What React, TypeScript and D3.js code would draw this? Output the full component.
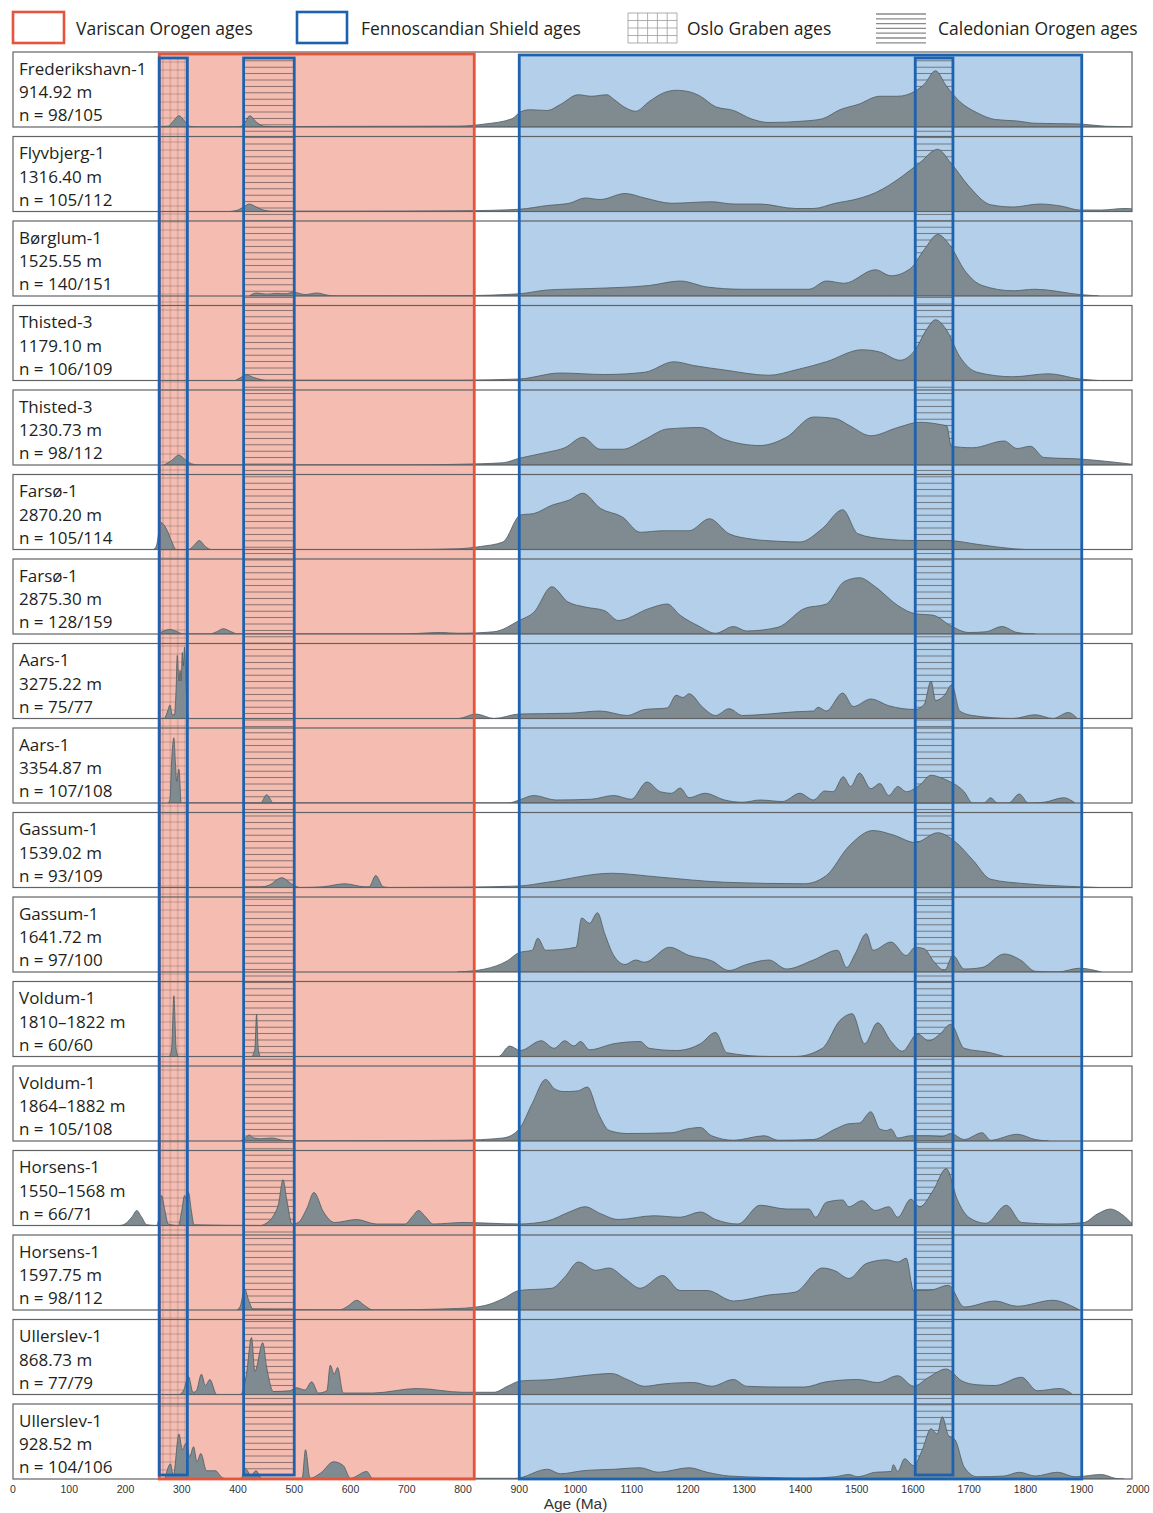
import React from "react";
import * as d3 from "d3";

// ---------- data ----------
const AGE_TICKS = d3.range(0, 2001, 100);

const SAMPLE_NAMES = [
  "Frederikshavn-1", "Flyvbjerg-1", "Børglum-1", "Thisted-3", "Thisted-3",
  "Farsø-1", "Farsø-1", "Aars-1", "Aars-1", "Gassum-1", "Gassum-1",
  "Voldum-1", "Voldum-1", "Horsens-1", "Horsens-1", "Ullerslev-1", "Ullerslev-1",
];
const SAMPLE_DEPTHS = [
  "914.92 m", "1316.40 m", "1525.55 m", "1179.10 m", "1230.73 m",
  "2870.20 m", "2875.30 m", "3275.22 m", "3354.87 m", "1539.02 m", "1641.72 m",
  "1810–1822 m", "1864–1882 m", "1550–1568 m", "1597.75 m", "868.73 m", "928.52 m",
];
const SAMPLE_COUNTS = [
  "n = 98/105", "n = 105/112", "n = 140/151", "n = 106/109", "n = 98/112",
  "n = 105/114", "n = 128/159", "n = 75/77", "n = 107/108", "n = 93/109", "n = 97/100",
  "n = 60/60", "n = 105/108", "n = 66/71", "n = 98/112", "n = 77/79", "n = 104/106",
];

// Age ranges (Ma)
const VARISCAN = [260, 820];
const FENNOSCANDIAN = [900, 1900];
const OSLO = [260, 310];
const CALEDONIAN = [[410, 500], [1604, 1671]];

const LEGEND_LABELS = ["Variscan Orogen ages", "Fennoscandian Shield ages", "Oslo Graben ages", "Caledonian Orogen ages"];

// Density curves: [age (Ma), relative height]
const P01 = [[250,0],[276,0.01],[285,0.08],[295,0.15],[305,0.08],[314,0.01],[330,0],[395,0],[406,0.01],[414,0.08],[421,0.15],[432,0.07],[446,0.01],[470,0.005],[570,0.008],[700,0.01],[792,0.012],
  [839,0.04],[887,0.11],[902,0.2],[918,0.23],[950,0.22],[973,0.3],[1005,0.43],[1028,0.41],[1056,0.43],[1068,0.37],[1088,0.26],[1107,0.21],[1131,0.34],[1155,0.45],[1179,0.49],[1202,0.47],[1222,0.41],[1249,0.27],[1281,0.22],[1312,0.11],[1344,0.06],[1407,0.08],[1439,0.11],[1470,0.23],[1502,0.3],[1541,0.41],[1573,0.41],[1604,0.48],[1620,0.57],[1640,0.75],[1659,0.55],[1683,0.34],[1714,0.19],[1746,0.1],[1785,0.08],[1817,0.05],[1896,0.04],[1943,0.01],[1975,0.005],[1990,0]];
const P02 = [[385,0],[400,0.02],[412,0.07],[420,0.1],[430,0.07],[445,0.02],[460,0.005],[600,0.005],[800,0.01],
  [900,0.03],[950,0.08],[989,0.11],[1017,0.18],[1044,0.16],[1088,0.24],[1123,0.18],[1171,0.11],[1242,0.13],[1281,0.1],[1328,0.1],[1391,0.04],[1423,0.04],[1462,0.11],[1502,0.17],[1533,0.25],[1581,0.47],[1612,0.65],[1644,0.83],[1667,0.65],[1699,0.34],[1738,0.09],[1778,0.06],[1825,0.1],[1865,0.07],[1896,0.02],[1935,0.02],[1975,0.04],[1995,0.035]];
const P03 = [[420,0],[433,0.04],[450,0.025],[469,0.035],[485,0.03],[498,0.05],[520,0.02],[540,0.04],[560,0.01],[575,0],[800,0.005],
  [900,0.03],[950,0.08],[1028,0.1],[1131,0.14],[1186,0.2],[1234,0.12],[1297,0.09],[1415,0.09],[1446,0.2],[1478,0.17],[1533,0.35],[1561,0.27],[1596,0.37],[1620,0.62],[1644,0.82],[1667,0.66],[1691,0.35],[1723,0.14],[1778,0.07],[1817,0.09],[1896,0.02],[1930,0]];
const P04 = [[395,0],[405,0.04],[415,0.075],[428,0.04],[450,0.005],[800,0.005],
  [900,0.02],[973,0.1],[1052,0.08],[1123,0.11],[1175,0.25],[1210,0.2],[1265,0.14],[1344,0.07],[1391,0.14],[1446,0.25],[1509,0.41],[1541,0.38],[1577,0.27],[1604,0.41],[1624,0.68],[1640,0.81],[1659,0.68],[1683,0.32],[1714,0.11],[1778,0.05],[1841,0.09],[1896,0.02],[1930,0]];
const P05 = [[268,0],[280,0.05],[295,0.13],[308,0.06],[320,0.01],[335,0],[700,0],[792,0.01],
  [871,0.03],[900,0.09],[950,0.17],[981,0.23],[1013,0.37],[1044,0.21],[1084,0.21],[1123,0.34],[1163,0.48],[1222,0.5],[1265,0.34],[1328,0.26],[1375,0.37],[1423,0.64],[1462,0.62],[1486,0.53],[1525,0.39],[1573,0.5],[1612,0.57],[1648,0.54],[1660,0.52],[1668,0.25],[1706,0.23],[1762,0.32],[1785,0.22],[1809,0.25],[1833,0.1],[1896,0.08],[1990,0.01]];
const P06 = [[250,0],[255,0.05],[263,0.36],[273,0.27],[282,0.11],[290,0],[312,0],[320,0.04],[331,0.12],[342,0.04],[352,0],[700,0],[792,0.01],
  [831,0.04],[871,0.1],[902,0.46],[926,0.48],[958,0.59],[989,0.66],[1013,0.75],[1044,0.55],[1084,0.43],[1115,0.23],[1155,0.25],[1202,0.25],[1238,0.41],[1273,0.21],[1312,0.14],[1360,0.11],[1399,0.1],[1439,0.28],[1475,0.53],[1502,0.21],[1549,0.14],[1604,0.12],[1659,0.12],[1723,0.06],[1778,0.01],[1800,0]];
const P07 = [[258,0],[265,0.03],[279,0.06],[292,0.03],[302,0],[350,0],[362,0.03],[374,0.07],[388,0.03],[400,0],[690,0],[760,0.02],[792,0.01],
  [855,0.03],[900,0.18],[926,0.29],[958,0.63],[986,0.43],[1017,0.36],[1052,0.31],[1076,0.18],[1131,0.34],[1163,0.4],[1186,0.25],[1218,0.11],[1249,0.01],[1281,0.1],[1304,0.04],[1360,0.09],[1407,0.34],[1446,0.4],[1478,0.7],[1505,0.75],[1533,0.63],[1573,0.38],[1604,0.27],[1636,0.25],[1667,0.11],[1699,0.02],[1730,0.03],[1758,0.1],[1785,0.02],[1817,0]];
const P08 = [[270,0],[275,0.1],[279,0.18],[283,0.05],[287,0.05],[290,0.4],[292,0.84],[295,0.5],[297,0.64],[299,0.5],[301,0.88],[303,0.7],[305,0.95],[307,0.6],[309,0.2],[312,0],[792,0],
  [823,0.06],[855,0.0],[900,0.06],[989,0.07],[1044,0.1],[1092,0.04],[1123,0.12],[1163,0.14],[1179,0.31],[1191,0.28],[1202,0.33],[1226,0.15],[1249,0.04],[1273,0.13],[1297,0.04],[1344,0.06],[1391,0.09],[1423,0.1],[1431,0.15],[1446,0.1],[1475,0.34],[1494,0.16],[1525,0.26],[1557,0.17],[1604,0.12],[1620,0.19],[1632,0.5],[1640,0.24],[1656,0.31],[1669,0.45],[1683,0.1],[1706,0.04],[1778,0.0],[1817,0.05],[1849,0.0],[1876,0.08],[1892,0]];
const P09 = [[276,0],[279,0.05],[282,0.56],[286,0.87],[289,0.5],[291,0.29],[295,0.45],[299,0],[440,0],[451,0.11],[463,0],[800,0],
  [880,0],[900,0.04],[926,0.1],[965,0.04],[1028,0.05],[1068,0.1],[1099,0.05],[1127,0.28],[1151,0.15],[1171,0.13],[1186,0.2],[1202,0.07],[1230,0.13],[1265,0.04],[1297,0.01],[1328,0.04],[1368,0.02],[1399,0.13],[1423,0.04],[1443,0.16],[1458,0.15],[1476,0.35],[1489,0.22],[1505,0.4],[1525,0.19],[1541,0.26],[1557,0.1],[1573,0.22],[1588,0.15],[1612,0.24],[1632,0.37],[1652,0.33],[1667,0.28],[1691,0.15],[1706,0.0],[1726,0.0],[1738,0.07],[1750,0.0],[1770,0.0],[1789,0.12],[1805,0.0],[1833,0.01],[1868,0.07],[1888,0]];
const P10 = [[440,0],[455,0.03],[478,0.13],[495,0.05],[510,0],[551,0.01],[590,0.05],[625,0.01],[633,0.01],[645,0.16],[658,0.01],[670,0],[800,0.005],
  [900,0.02],[950,0.07],[1064,0.19],[1147,0.14],[1265,0.07],[1407,0.05],[1446,0.16],[1486,0.55],[1529,0.76],[1565,0.7],[1604,0.6],[1644,0.73],[1675,0.61],[1707,0.36],[1738,0.11],[1801,0.05],[1896,0.01],[1930,0]];
const P11 = [[790,0],
  [839,0.04],[879,0.15],[900,0.26],[923,0.29],[933,0.45],[947,0.29],[1001,0.33],[1011,0.72],[1025,0.65],[1039,0.79],[1052,0.51],[1068,0.22],[1088,0.1],[1107,0.16],[1123,0.13],[1167,0.33],[1202,0.22],[1242,0.15],[1273,0.02],[1304,0.1],[1344,0.16],[1375,0.04],[1423,0.16],[1466,0.29],[1482,0.06],[1497,0.24],[1517,0.51],[1529,0.29],[1561,0.4],[1588,0.22],[1604,0.33],[1620,0.31],[1636,0.15],[1656,0.02],[1671,0.22],[1691,0.04],[1723,0.06],[1762,0.24],[1793,0.15],[1817,0.01],[1857,0],[1896,0.05],[1935,0]];
const P12 = [[278,0],[282,0.1],[286,0.81],[290,0.1],[294,0],[424,0],[430,0.1],[433,0.56],[436,0.1],[440,0],[790,0],
  [863,0],[883,0.14],[902,0.08],[939,0.21],[962,0.11],[981,0.21],[997,0.14],[1009,0.2],[1025,0.09],[1068,0.17],[1115,0.2],[1131,0.11],[1179,0.08],[1222,0.17],[1249,0.32],[1269,0.05],[1344,0],[1391,0],[1439,0.11],[1470,0.48],[1492,0.57],[1514,0.17],[1537,0.45],[1561,0.2],[1581,0.07],[1608,0.3],[1628,0.21],[1648,0.3],[1667,0.43],[1691,0.11],[1738,0.05],[1762,0]];
const P13 = [[405,0],[413,0.04],[420,0.08],[428,0.04],[440,0.03],[460,0.04],[480,0.01],[500,0],[792,0.01],
  [871,0.04],[900,0.16],[923,0.5],[947,0.82],[962,0.7],[978,0.66],[989,0.66],[1005,0.67],[1021,0.72],[1041,0.36],[1060,0.14],[1092,0.1],[1171,0.11],[1198,0.16],[1222,0.18],[1242,0.07],[1281,0.01],[1336,0.07],[1360,0.01],[1423,0.02],[1462,0.16],[1486,0.23],[1505,0.24],[1525,0.39],[1541,0.16],[1553,0.14],[1561,0.16],[1573,0.04],[1596,0.07],[1628,0.07],[1652,0.06],[1667,0.1],[1691,0.02],[1723,0.11],[1738,0.01],[1785,0.09],[1817,0.02],[1841,0]];
const P14 = [[190,0],[199,0.02],[212,0.12],[220,0.2],[228,0.12],[238,0.01],[255,0],[258,0.05],[264,0.4],[270,0.2],[276,0.02],[294,0],[300,0.2],[305,0.4],[308,0.35],[312,0.44],[317,0.2],[322,0.01],[440,0],[450,0.03],[463,0.13],[472,0.29],[480,0.61],[487,0.33],[496,0.02],[507,0.04],[522,0.22],[535,0.44],[552,0.18],[572,0.04],[611,0.08],[646,0.02],[697,0.02],[710,0.12],[721,0.2],[733,0.12],[747,0.02],[800,0.04],
  [900,0.02],[950,0.06],[989,0.18],[1017,0.25],[1044,0.16],[1076,0.08],[1139,0.13],[1186,0.11],[1222,0.18],[1249,0.08],[1289,0.02],[1328,0.27],[1375,0.22],[1415,0.22],[1427,0.11],[1446,0.31],[1475,0.34],[1486,0.25],[1509,0.33],[1533,0.2],[1557,0.25],[1573,0.11],[1596,0.35],[1612,0.25],[1636,0.47],[1659,0.76],[1679,0.34],[1699,0.11],[1730,0.03],[1766,0.27],[1793,0.04],[1857,0.02],[1904,0.04],[1927,0.15],[1951,0.22],[1971,0.15],[1990,0.02]];
const P15 = [[398,0],[404,0.05],[412,0.28],[418,0.15],[427,0.01],[580,0],[595,0.05],[611,0.13],[625,0.06],[640,0],[790,0.02],
  [839,0.06],[871,0.15],[900,0.26],[958,0.29],[981,0.44],[1005,0.64],[1036,0.53],[1060,0.56],[1088,0.42],[1115,0.29],[1155,0.46],[1186,0.26],[1234,0.26],[1281,0.12],[1344,0.2],[1391,0.24],[1439,0.56],[1462,0.52],[1486,0.42],[1517,0.62],[1553,0.67],[1573,0.64],[1588,0.69],[1601,0.26],[1628,0.26],[1663,0.33],[1691,0.04],[1746,0.12],[1785,0.05],[1849,0.13],[1880,0.06],[1896,0]];
const P16 = [[296,0],[303,0.05],[312,0.24],[320,0.03],[326,0.05],[335,0.27],[342,0.12],[350,0.2],[362,0],[405,0],[415,0.27],[424,0.76],[430,0.31],[444,0.69],[451,0.36],[463,0.04],[492,0.05],[504,0.09],[519,0.06],[531,0.17],[543,0.02],[558,0.05],[564,0.39],[571,0.27],[577,0.36],[587,0.02],[640,0.02],[718,0.08],[800,0.03],
  [855,0.03],[879,0.11],[902,0.18],[958,0.2],[1013,0.25],[1064,0.28],[1092,0.2],[1123,0.11],[1155,0.14],[1210,0.16],[1242,0.11],[1281,0.2],[1304,0.11],[1360,0.1],[1407,0.1],[1446,0.17],[1502,0.2],[1537,0.16],[1573,0.25],[1601,0.11],[1628,0.23],[1659,0.34],[1687,0.18],[1714,0.13],[1746,0.12],[1793,0.23],[1821,0.05],[1861,0.08],[1884,0]];
const P17 = [[270,0],[280,0.2],[285,0.05],[295,0.6],[301,0.39],[308,0.48],[314,0.3],[321,0.43],[327,0.23],[334,0.34],[344,0.11],[360,0.11],[370,0.03],[380,0],[405,0],[413,0.14],[423,0.05],[432,0.11],[442,0.01],[514,0.01],[520,0.39],[528,0.01],[547,0.08],[570,0.23],[587,0.18],[600,0.01],[629,0.1],[639,0.01],[800,0.01],
  [894,0.01],[950,0.13],[973,0.07],[1013,0.11],[1068,0.13],[1115,0.15],[1147,0.09],[1202,0.15],[1234,0.09],[1273,0.04],[1344,0.02],[1407,0.01],[1462,0.03],[1486,0.06],[1502,0.03],[1533,0.09],[1561,0.1],[1565,0.19],[1573,0.1],[1585,0.27],[1601,0.18],[1616,0.38],[1632,0.67],[1643,0.6],[1652,0.83],[1663,0.58],[1675,0.52],[1691,0.16],[1714,0.03],[1762,0.04],[1789,0.09],[1817,0.04],[1857,0.09],[1888,0.03],[1935,0.06],[1959,0.01],[1975,0]];

const DENSITIES = [P01, P02, P03, P04, P05, P06, P07, P08, P09, P10, P11, P12, P13, P14, P15, P16, P17];

// ---------- layout ----------
const W = 1153;
const H = 1513;
const PANEL_LEFT = 13;
const PANEL_RIGHT = 1132;
const PANEL_TOP0 = 52;
const PANEL_STEP = 84.5;
const PANEL_H = 75;

const RED = "#e4553b";
const RED_FILL = "#f5bdb1";
const BLUE = "#1d62ae";
const BLUE_FILL = "#b3cfe9";
const DENS_FILL = "#7f8b91";
const DENS_STROKE = "#4e5a61";
const FONT = "'Open Sans', 'Noto Sans', sans-serif";

export default function App() {
  const x = d3.scaleLinear().domain([0, 2000]).range([13, 1138]);
  const nP = DENSITIES.length;
  const lastBottom = PANEL_TOP0 + (nP - 1) * PANEL_STEP + PANEL_H;

  const panels = DENSITIES.map((data, i) => {
    const top = PANEL_TOP0 + i * PANEL_STEP;
    const bottom = top + PANEL_H;
    const y = d3.scaleLinear().domain([0, 1]).range([bottom, top]);
    const area = d3
      .area<number[]>()
      .x((d) => x(d[0]))
      .y0(bottom)
      .y1((d) => y(d[1]))
      .curve(d3.curveMonotoneX);
    return { top, bottom, path: area(data as number[][]) || "" };
  });

  const boxTop = 55;
  const innerTop = 58;
  const innerBottom = lastBottom - 4;

  return (
    <svg
      width={W}
      height={H}
      viewBox={`0 0 ${W} ${H}`}
      style={{ position: "absolute", left: 0, top: 0, background: "#fff" }}
    >
      <defs>
        <pattern id="hatch" patternUnits="userSpaceOnUse" width="10" height="6.4">
          <line x1="0" y1="3.2" x2="10" y2="3.2" stroke="#3a3a3a" strokeOpacity="0.6" strokeWidth="1" />
        </pattern>
        <pattern id="grid" patternUnits="userSpaceOnUse" width="7.4" height="8" x={x(OSLO[0])} y={innerTop}>
          <line x1="3.7" y1="0" x2="3.7" y2="8" stroke="#5a4a4a" strokeOpacity="0.45" strokeWidth="0.7" />
          <line x1="0" y1="4" x2="7.4" y2="4" stroke="#5a4a4a" strokeOpacity="0.45" strokeWidth="0.7" />
        </pattern>
        {panels.map((p, i) => (
          <clipPath id={`clip${i}`} key={i}>
            <rect x={PANEL_LEFT} y={p.top} width={PANEL_RIGHT - PANEL_LEFT} height={PANEL_H} />
          </clipPath>
        ))}
      </defs>

      {/* Legend */}
      <g fontFamily={FONT} fontSize="17.5" fill="#231f20">
        <rect x={13} y={12} width={51} height={31} fill="#fff" stroke={RED} strokeWidth={2.6} />
        <text x={76} y={35}>{LEGEND_LABELS[0]}</text>
        <rect x={297} y={12} width={50} height={31} fill="#fff" stroke={BLUE} strokeWidth={2.6} />
        <text x={361} y={35}>{LEGEND_LABELS[1]}</text>
        <g stroke="#9a9a9a" strokeWidth={0.8}>
          {d3.range(6).map((k) => (
            <line key={"gv" + k} x1={628 + k * 9.8} y1={13} x2={628 + k * 9.8} y2={43} />
          ))}
          {d3.range(5).map((k) => (
            <line key={"gh" + k} x1={628} y1={13 + k * 7.5} x2={677} y2={13 + k * 7.5} />
          ))}
        </g>
        <text x={687} y={35}>{LEGEND_LABELS[2]}</text>
        <g stroke="#8a8a8a" strokeWidth={1.3}>
          {d3.range(7).map((k) => (
            <line key={"hh" + k} x1={876} y1={14 + k * 4.8} x2={926} y2={14 + k * 4.8} />
          ))}
        </g>
        <text x={938} y={35}>{LEGEND_LABELS[3]}</text>
      </g>

      {/* Panel backgrounds */}
      {panels.map((p, i) => (
        <rect key={"bg" + i} x={PANEL_LEFT} y={p.top} width={PANEL_RIGHT - PANEL_LEFT} height={PANEL_H} fill="#fff" />
      ))}

      {/* Age range fills */}
      <rect x={x(VARISCAN[0])} y={boxTop - 1} width={x(VARISCAN[1]) - x(VARISCAN[0])} height={lastBottom - boxTop + 1} fill={RED_FILL} />
      <rect x={x(FENNOSCANDIAN[0])} y={boxTop} width={x(FENNOSCANDIAN[1]) - x(FENNOSCANDIAN[0])} height={lastBottom - boxTop} fill={BLUE_FILL} />

      {/* Patterns */}
      <rect x={x(OSLO[0])} y={innerTop} width={x(OSLO[1]) - x(OSLO[0])} height={innerBottom - innerTop} fill="url(#grid)" />
      {CALEDONIAN.map((r, k) => (
        <rect key={"cal" + k} x={x(r[0])} y={innerTop} width={x(r[1]) - x(r[0])} height={innerBottom - innerTop} fill="url(#hatch)" />
      ))}

      {/* Densities */}
      {panels.map((p, i) => (
        <path key={"d" + i} d={p.path} fill={DENS_FILL} stroke={DENS_STROKE} strokeWidth={0.8} clipPath={`url(#clip${i})`} />
      ))}

      {/* Panel frames */}
      {panels.map((p, i) => (
        <rect key={"fr" + i} x={PANEL_LEFT} y={p.top} width={PANEL_RIGHT - PANEL_LEFT} height={PANEL_H} fill="none" stroke="#5f6366" strokeWidth={1.2} />
      ))}

      {/* Age range outlines */}
      <rect x={x(VARISCAN[0])} y={boxTop - 1} width={x(VARISCAN[1]) - x(VARISCAN[0])} height={lastBottom - boxTop + 1} fill="none" stroke={RED} strokeWidth={2.8} />
      <rect x={x(FENNOSCANDIAN[0])} y={boxTop} width={x(FENNOSCANDIAN[1]) - x(FENNOSCANDIAN[0])} height={lastBottom - boxTop} fill="none" stroke={BLUE} strokeWidth={2.8} />
      <rect x={x(OSLO[0])} y={innerTop} width={x(OSLO[1]) - x(OSLO[0])} height={innerBottom - innerTop} fill="none" stroke={BLUE} strokeWidth={2.8} />
      {CALEDONIAN.map((r, k) => (
        <rect key={"calo" + k} x={x(r[0])} y={innerTop} width={x(r[1]) - x(r[0])} height={innerBottom - innerTop} fill="none" stroke={BLUE} strokeWidth={2.8} />
      ))}

      {/* Panel labels */}
      <g fontFamily={FONT} fontSize="17" fill="#231f20">
        {panels.map((p, i) => (
          <g key={"lab" + i}>
            <text x={19} y={p.top + 22.5}>{SAMPLE_NAMES[i]}</text>
            <text x={19} y={p.top + 46}>{SAMPLE_DEPTHS[i]}</text>
            <text x={19} y={p.top + 69}>{SAMPLE_COUNTS[i]}</text>
          </g>
        ))}
      </g>

      {/* Axis */}
      <g fontFamily="'Liberation Sans', Arial, sans-serif" fill="#333">
        {AGE_TICKS.map((t) => (
          <text key={"t" + t} x={x(t)} y={lastBottom + 14} fontSize="10.5" textAnchor="middle">{t}</text>
        ))}
        <text x={x(1000)} y={lastBottom + 30} fontSize="15.5" textAnchor="middle">Age (Ma)</text>
      </g>
    </svg>
  );
}
